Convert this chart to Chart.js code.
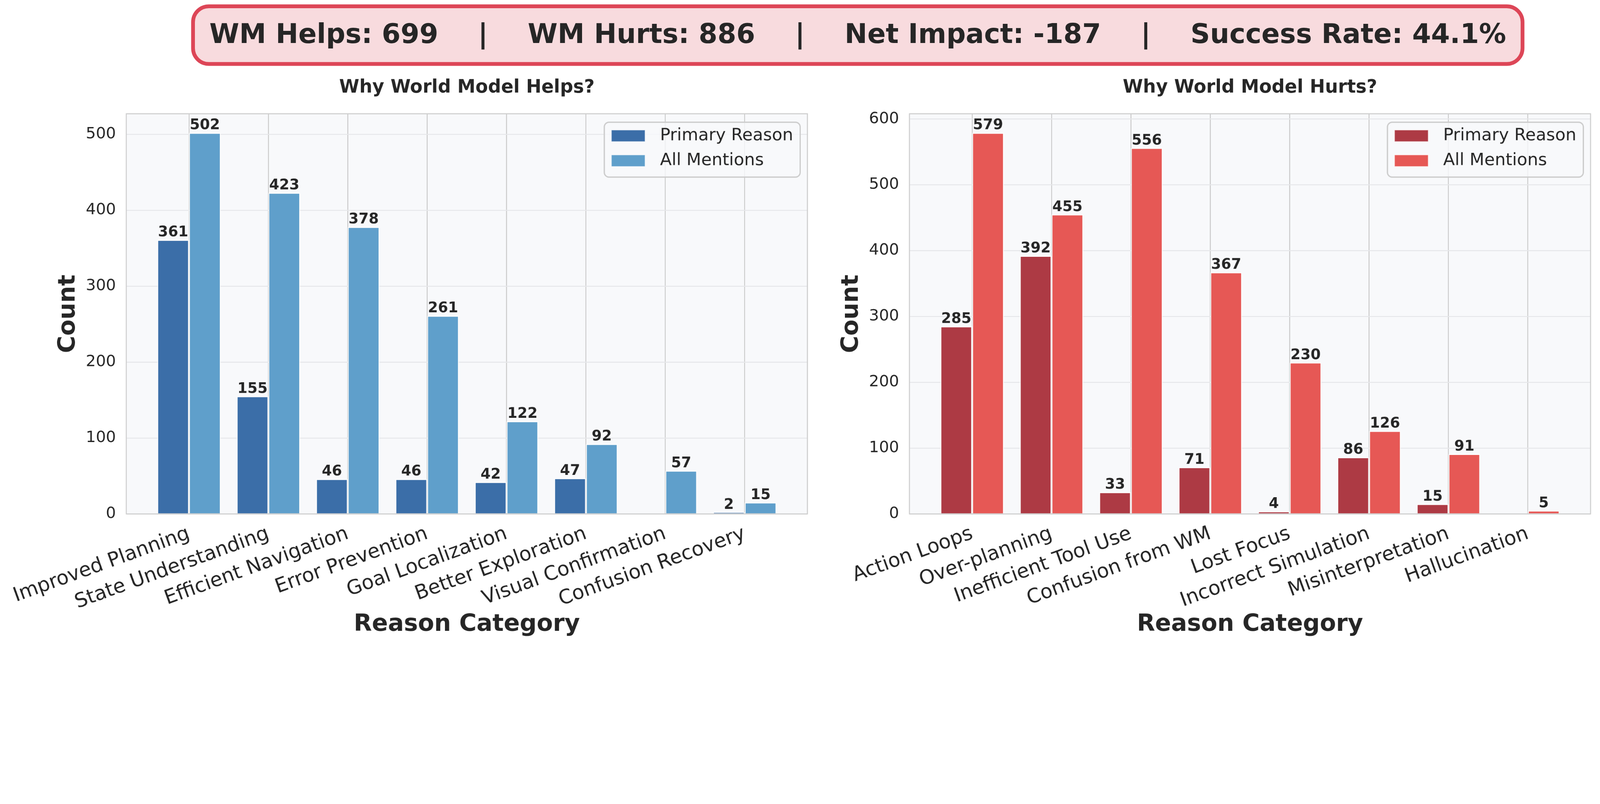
<!DOCTYPE html>
<html>
<head>
<meta charset="utf-8">
<script src="https://cdn.jsdelivr.net/npm/chart.js@4.4.0/dist/chart.umd.min.js"></script>
<style>
html,body{margin:0;padding:0;background:#fff;overflow:hidden;font-family:"DejaVu Sans";}
#stage{position:absolute;left:0;top:0;width:5081px;height:2057px;transform-origin:0 0;background:#fff;}
#banner{position:absolute;left:607px;top:14px;width:4234px;height:195px;box-sizing:border-box;border:12px solid #dd4657;border-radius:56px;background:#f8dbde;}
#banner .row{position:absolute;left:46px;right:46px;top:0;height:161px;display:flex;justify-content:space-between;align-items:center;font-weight:bold;font-size:86px;color:#262626;line-height:161px;white-space:pre;}
.wrap{position:absolute;top:220px;height:1837px;}
</style>
</head>
<body>
<div id="stage">
<div id="banner"><div class="row" id="row"></div></div>
<div class="wrap" style="left:0;width:2594px"><canvas id="helps" width="2594" height="1837"></canvas></div>
<div class="wrap" style="left:2650px;width:2431px"><canvas id="hurts" width="2431" height="1837"></canvas></div>
</div>
<script>
// fit the 5081x2057 stage to whatever css viewport we get
var stage = document.getElementById("stage");
var k = Math.min( window.innerWidth/5081, window.innerHeight/2057 );
stage.style.transform = "scale("+k+")";

// values
var summary = ["WM Helps: 699", "WM Hurts: 886", "Net Impact: -187", "Success Rate: 44.1%"];

var helpCats = ["Improved Planning","State Understanding","Efficient Navigation","Error Prevention","Goal Localization","Better Exploration","Visual Confirmation","Confusion Recovery"];
var helpPrimary = [361,155,46,46,42,47,0,2];
var helpAll = [502,423,378,261,122,92,57,15];
var helpTicks = [0,100,200,300,400,500];

var hurtCats = ["Action Loops","Over-planning","Inefficient Tool Use","Confusion from WM","Lost Focus","Incorrect Simulation","Misinterpretation","Hallucination"];
var hurtPrimary = [285,392,33,71,4,86,15,0];
var hurtAll = [579,455,556,367,230,126,91,5];
var hurtTicks = [0,100,200,300,400,500,600];

var FONT = '"DejaVu Sans"';
var INK = '#262626';
Chart.defaults.font.family = FONT;
Chart.defaults.color = INK;

// banner text
var row = document.getElementById("row");
summary.forEach((s,i)=>{
	if( i>0 ){ var sep=document.createElement("span"); sep.textContent="|"; row.appendChild(sep); }
	var sp=document.createElement("span"); sp.textContent=s; row.appendChild(sp);
});

function pathRound(ctx,x,y,w,h,r){
	ctx.beginPath();
	ctx.moveTo(x+r,y);
	ctx.lineTo(x+w-r,y); ctx.arcTo(x+w,y,x+w,y+r,r);
	ctx.lineTo(x+w,y+h-r); ctx.arcTo(x+w,y+h,x+w-r,y+h,r);
	ctx.lineTo(x+r,y+h); ctx.arcTo(x,y+h,x,y+h-r,r);
	ctx.lineTo(x,y+r); ctx.arcTo(x,y,x+r,y,r);
	ctx.closePath();
}

var decor = {
	id: "decor",
	beforeDraw(chart){
		var a=chart.chartArea, ctx=chart.ctx;
		ctx.save(); ctx.fillStyle="#f8f9fb";
		ctx.fillRect(a.left,a.top,a.right-a.left,a.bottom-a.top);
		ctx.restore();
	},
	afterDraw(chart){
		var a=chart.chartArea, ctx=chart.ctx;
		ctx.save();
		// frame
		ctx.strokeStyle="#cccccc"; ctx.lineWidth=3;
		ctx.strokeRect(a.left,a.top,a.right-a.left,a.bottom-a.top);
		// value labels
		ctx.font='bold 46px '+FONT; ctx.fillStyle=INK;
		ctx.textAlign="center"; ctx.textBaseline="alphabetic";
		chart.data.datasets.forEach((ds,di)=>{
			chart.getDatasetMeta(di).data.forEach((el,i)=>{
				var v=ds.data[i].y;
				if( v>0 ) ctx.fillText(String(v), el.x, el.y-11);
			});
		});
		// legend box, upper right
		var w=622, h=174, x=a.right-23-w, y=a.top+27;
		pathRound(ctx,x,y,w,h,15);
		ctx.fillStyle="rgba(248,249,251,0.8)"; ctx.fill();
		ctx.strokeStyle="#cccccc"; ctx.lineWidth=4; ctx.stroke();
		ctx.font='54px '+FONT; ctx.textAlign="left"; ctx.textBaseline="middle";
		chart.data.datasets.forEach((ds,k)=>{
			var cy=y+43+k*79;
			ctx.fillStyle=ds.backgroundColor; ctx.fillRect(x+22,cy-19,108,38);
			ctx.strokeStyle="rgba(255,255,255,0.8)"; ctx.lineWidth=3; ctx.strokeRect(x+22,cy-19,108,38);
			ctx.fillStyle=INK; ctx.fillText(ds.label, x+177, cy);
		});
		ctx.restore();
	}
};

function makeChart(id, title, cats, primary, all, yTicks, yMax, colors, padLeft){
	var n=cats.length;
	var margin=(n-1+0.8)*0.05;
	return new Chart(id, {
		type: "bar",
		data: {
			datasets: [
			{
				label: "Primary Reason",
				data: primary.map((v,i)=>({x:i,y:v})),
				backgroundColor: colors[0],
				borderColor: "rgba(255,255,255,0.8)",
				borderWidth: 3,
				categoryPercentage: 0.8,
				barPercentage: 1
			},
			{
				label: "All Mentions",
				data: all.map((v,i)=>({x:i,y:v})),
				backgroundColor: colors[1],
				borderColor: "rgba(255,255,255,0.8)",
				borderWidth: 3,
				categoryPercentage: 0.8,
				barPercentage: 1
			}
		]},
		options: {
			responsive: false,
			animation: false,
			devicePixelRatio: 1,
			layout: { padding: {left:padLeft, right:30, top:0, bottom:0} },
			plugins: {
				legend: {display:false},
				tooltip: {enabled:false},
				title: {
					display: true, text: title, fullSize: false, color: INK,
					font: {size:58, weight:"bold"},
					padding: {top:24, bottom:47.4}
				}
			},
			scales: {
				x: {
					type: "linear",
					offset: false,
					min: -0.4-margin, max: n-1+0.4+margin,
					afterBuildTicks: s=>{ s.ticks = cats.map((c,i)=>({value:i})); },
					afterFit: s=>{ s.height=426; s.paddingLeft=0; s.paddingRight=0; },
					ticks: {
						callback: v=>cats[v], autoSkip:false,
						minRotation:20, maxRotation:20,
						font:{size:63}, color:INK, padding:26
					},
					grid: {color:"#cccccc", lineWidth:3, drawTicks:false, offset:false},
					border: {display:false},
					title: {display:true, text:"Reason Category", color:INK, font:{size:75, weight:"bold"}, padding:{top:0,bottom:29}}
				},
				y: {
					min: 0, max: yMax,
					afterBuildTicks: s=>{ s.ticks = yTicks.map(v=>({value:v})); },
					afterFit: s=>{ s.width=238; s.paddingTop=0; s.paddingBottom=0; },
					ticks: {font:{size:50}, color:INK, padding:33},
					grid: {color:"#e6e7ea", lineWidth:3, drawTicks:false},
					border: {display:false},
					title: {display:true, text:"Count", color:INK, font:{size:75, weight:"bold"}, padding:{top:10,bottom:0}}
				}
			}
		},
		plugins: [decor]
	});
}

makeChart("helps", "Why World Model Helps?", helpCats, helpPrimary, helpAll, helpTicks, 502*1.05, ["#3b6ea8","#5f9fcb"], 163);
makeChart("hurts", "Why World Model Hurts?", hurtCats, hurtPrimary, hurtAll, hurtTicks, 579*1.05, ["#ad3a44","#e65855"], 0);
</script>
</body>
</html>
